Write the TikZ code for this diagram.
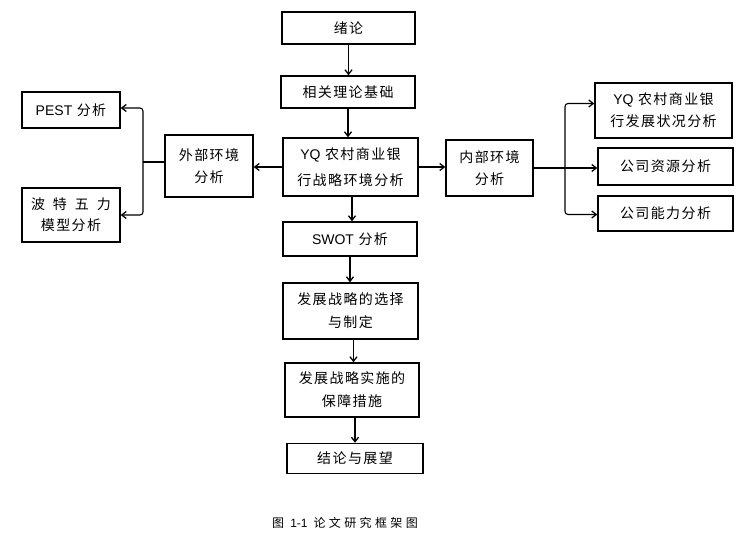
\documentclass[tikz,border=0pt]{standalone}
\usepackage{fontspec}
\setmainfont{Liberation Sans}
\newfontfamily\cjk{Noto Sans CJK SC}[LetterSpace=10]
\newfontfamily\capf{Noto Sans CJK SC}[LetterSpace=28]
\newfontfamily\lat{Liberation Sans}
\usetikzlibrary{arrows.meta}
\tikzset{
  box/.style={draw, line width=1.4pt, inner sep=0pt, align=center,
    font=\cjk\fontsize{14}{23}\selectfont},
  arr/.style={line width=1.1pt, -{Straight Barb[length=4.5pt,width=7pt,line width=1.3pt]}},
  lin/.style={line width=1.1pt}
}
\begin{document}
\begin{tikzpicture}[x=1pt,y=-1pt]
\useasboundingbox (0,0) rectangle (746,545);
% centre column
\node[box, minimum width=133pt, minimum height=32pt] (lun) at (348.5,28) {绪论};
\node[box, minimum width=134pt, minimum height=32pt] (jichu) at (348,92) {相关理论基础};
\node[box, minimum width=135pt, minimum height=58pt, font=\cjk\fontsize{14}{26}\selectfont] (env) at (350.5,167) {{\lat YQ} 农村商业银\\行战略环境分析};
\node[box, minimum width=134pt, minimum height=34pt] (swot) at (350,239) {{\lat SWOT} 分析};
\node[box, minimum width=135pt, minimum height=56pt] (sel) at (350.5,311) {发展战略的选择\\与制定};
\node[box, minimum width=134pt, minimum height=54pt] (imp) at (352,390) {发展战略实施的\\保障措施};
\node[box, minimum width=136pt, minimum height=30pt] (conc) at (355,458.5) {结论与展望};
% left
\node[box, minimum width=88pt, minimum height=62pt, font=\cjk\fontsize{14}{22}\selectfont] (ext) at (209,166) {外部环境\\分析};
\node[box, minimum width=98pt, minimum height=36pt] (pest) at (71,110) {{\lat PEST} 分析};
\node[box, minimum width=98pt, minimum height=54pt, font=\cjk\fontsize{14}{21}\selectfont] (porter) at (71,215) {波\hspace{8pt}特\hspace{8pt}五\hspace{8pt}力\\模型分析};
% right
\node[box, minimum width=87pt, minimum height=56pt, font=\cjk\fontsize{14}{22}\selectfont] (int) at (489.5,168) {内部环境\\分析};
\node[box, minimum width=137pt, minimum height=55pt, font=\cjk\fontsize{14}{22}\selectfont] (dev) at (663.5,110.5) {{\lat YQ} 农村商业银\\行发展状况分析};
\node[box, minimum width=135pt, minimum height=37pt] (res) at (665.5,166.5) {公司资源分析};
\node[box, minimum width=135pt, minimum height=35pt] (cap) at (665.5,213.5) {公司能力分析};
% caption
\node[font=\capf\fontsize{12}{14}\selectfont, inner sep=0pt] (capt) at (345,523) {图 {\lat\fontsize{12}{14}\selectfont 1-1} 论文研究框架图};
% centre arrows
\draw[arr] (lun.south) -- (lun.south |- jichu.north);
\draw[arr] (jichu.south) -- (jichu.south |- env.north);
\draw[arr] ([xshift=1.5pt]env.south) -- ([xshift=1.5pt]env.south |- swot.north);
\draw[arr] (swot.south) -- (swot.south |- sel.north);
\draw[arr] ([xshift=3pt]sel.south) -- ([xshift=3pt]sel.south |- imp.north);
\draw[arr] ([xshift=3pt]imp.south) -- ([xshift=3pt]imp.south |- conc.north);
% side arrows
\draw[arr] (env.west) -- (env.west -| ext.east);
\draw[arr] (env.east) -- (env.east -| int.west);
% left branch
\coordinate (lb) at (143,162);
\draw[lin] (ext.west |- lb) -- (lb);
\draw[arr, rounded corners=3pt] (lb) |- ([yshift=2pt]pest.east);
\draw[arr, rounded corners=3pt] (lb) |- (porter.east);
% right branch
\coordinate (rb) at (565,168);
\draw[arr] (int.east) -- (int.east -| res.west);
\draw[arr, rounded corners=3pt] (rb) |- ([yshift=7pt]dev.west);
\draw[arr, rounded corners=3pt] (rb) |- ([yshift=-1pt]cap.west);
\end{tikzpicture}
\end{document}
